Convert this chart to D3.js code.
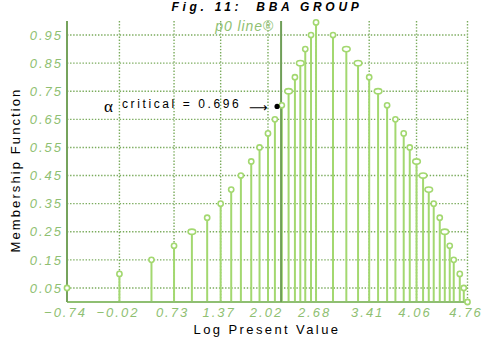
<!DOCTYPE html>
<html>
<head>
<meta charset="utf-8">
<style>
  body { margin: 0; background: white; }
  svg { display: block; font-family: "Liberation Sans", Arial, sans-serif; }
  .tick text { font-style: italic; fill: #8fbf72; font-size: 13px; letter-spacing: 2px; }
  .domain { display: none; }
</style>
</head>
<body>
<div id="chart"></div>
<script src="https://cdn.jsdelivr.net/npm/d3@7"></script>
<script>
// log present values (x) and membership values (y)
const logPV = [-0.74, -0.02, 0.42, 0.73, 0.975, 1.185, 1.37, 1.515, 1.648, 1.79, 1.904, 2.02, 2.115, 2.21,
  2.303, 2.39, 2.464, 2.532, 2.611, 2.68, 2.913, 3.096, 3.257, 3.41, 3.532, 3.656, 3.77, 3.884, 3.967, 4.06,
  4.15, 4.228, 4.296, 4.379, 4.448, 4.516, 4.571, 4.654, 4.709, 4.76];
const membership = [0.05, 0.10, 0.15, 0.20, 0.25, 0.30, 0.35, 0.40, 0.45, 0.50, 0.55, 0.60, 0.65, 0.70,
  0.75, 0.80, 0.85, 0.90, 0.95, 0.995, 0.95, 0.90, 0.85, 0.80, 0.75, 0.70, 0.65, 0.60, 0.55, 0.50,
  0.45, 0.40, 0.35, 0.30, 0.25, 0.20, 0.15, 0.10, 0.05, 0.0];
// points whose marker looks stretched (two overlapping circles)
const wideIdx = [4, 14, 16, 21, 22, 24, 29, 30, 31, 34];

const xTicks = [-0.74, -0.02, 0.73, 1.37, 2.02, 2.68, 3.41, 4.06, 4.76];
const yTicks = [0.05, 0.15, 0.25, 0.35, 0.45, 0.55, 0.65, 0.75, 0.85, 0.95];

const p0 = 2.20;
const alphaCritical = 0.696;
const alphaX = 2.145;

const width = 483, height = 345;
const plotLeft = 67, plotRight = 467.5, plotTop = 21, plotBottom = 302;

const svg = d3.select('#chart').append('svg')
  .attr('width', width)
  .attr('height', height);

const x = d3.scaleLinear().domain([-0.74, 4.76]).range([plotLeft, plotRight]);
const y = d3.scaleLinear().domain([0, 1]).range([plotBottom, plotTop]);

// title
svg.append('text')
  .attr('x', 267).attr('y', 11)
  .attr('text-anchor', 'middle')
  .style('font-weight', 'bold').style('font-style', 'italic')
  .style('font-size', '12px').style('letter-spacing', '3.7px')
  .style('white-space', 'pre')
  .text('Fig. 11:  BBA GROUP');

// grid
const gridColor = '#7aab5c';
svg.append('g').selectAll('line')
  .data(yTicks).enter().append('line')
  .attr('x1', plotLeft).attr('x2', plotRight)
  .attr('y1', d => y(d)).attr('y2', d => y(d))
  .attr('stroke', gridColor).attr('stroke-width', 1.4)
  .attr('stroke-dasharray', '1.4,1.7');

svg.append('g').selectAll('line')
  .data(xTicks.slice(1)).enter().append('line')
  .attr('x1', d => x(d)).attr('x2', d => x(d))
  .attr('y1', plotTop).attr('y2', plotBottom)
  .attr('stroke', gridColor).attr('stroke-width', 1.4)
  .attr('stroke-dasharray', '1.4,1.7');

// axes
const xAxis = d3.axisBottom(x).tickValues(xTicks).tickSize(0).tickPadding(6)
  .tickFormat(d3.format('.2f'));
svg.append('g')
  .attr('transform', `translate(-2, ${plotBottom})`)
  .call(xAxis);

const yAxis = d3.axisLeft(y).tickValues(yTicks).tickSize(0).tickPadding(4)
  .tickFormat(d3.format('.2f'));
svg.append('g')
  .attr('transform', `translate(${plotLeft}, 0)`)
  .call(yAxis);

svg.selectAll('.tick text').attr('font-family', null).attr('font-size', null);

// stems
const pts = logPV.map((v, i) => ({ x: v, y: membership[i], wide: wideIdx.includes(i) }));
const stemColor = '#a3d870';

svg.append('g').selectAll('line')
  .data(pts).enter().append('line')
  .attr('x1', d => x(d.x)).attr('x2', d => x(d.x))
  .attr('y1', plotBottom).attr('y2', d => y(d.y))
  .attr('stroke', stemColor).attr('stroke-width', 2);

// axis lines
svg.append('line')
  .attr('x1', plotLeft).attr('x2', plotRight + 1)
  .attr('y1', plotBottom).attr('y2', plotBottom)
  .attr('stroke', '#8fbf72').attr('stroke-width', 2);
svg.append('line')
  .attr('x1', plotLeft).attr('x2', plotLeft)
  .attr('y1', plotTop).attr('y2', plotBottom)
  .attr('stroke', '#76a35c').attr('stroke-width', 2);

// p0 line
svg.append('line')
  .attr('x1', x(p0)).attr('x2', x(p0))
  .attr('y1', plotTop).attr('y2', plotBottom)
  .attr('stroke', '#6f9e58').attr('stroke-width', 2);
svg.append('text')
  .attr('x', x(p0) - 7).attr('y', 31)
  .attr('text-anchor', 'end')
  .style('font-style', 'italic').style('font-size', '14px')
  .style('letter-spacing', '0.9px')
  .attr('fill', '#8fbf72')
  .text('p0 line\u00AE');

// markers
svg.append('g').selectAll('ellipse')
  .data(pts).enter().append('ellipse')
  .attr('cx', d => x(d.x)).attr('cy', d => y(d.y))
  .attr('rx', d => d.wide ? 3.8 : 2.6).attr('ry', 2.6)
  .attr('fill', 'white')
  .attr('stroke', stemColor).attr('stroke-width', 1.6);

// alpha critical point
svg.append('circle')
  .attr('cx', x(alphaX)).attr('cy', y(alphaCritical))
  .attr('r', 2.6).attr('fill', 'black');

svg.append('text')
  .attr('x', 104).attr('y', 112)
  .style('font-size', '17px')
  .style('font-family', '"Liberation Serif", serif')
  .text('\u03B1');
svg.append('text')
  .attr('x', 122).attr('y', 108)
  .style('font-size', '12px').style('letter-spacing', '2.6px')
  .text('critical = ' + alphaCritical);
svg.append('text')
  .attr('x', 249).attr('y', 112)
  .style('font-size', '13px')
  .style('font-family', '"DejaVu Sans", sans-serif')
  .text('\u27F6');

// axis titles
svg.append('text')
  .attr('x', 267).attr('y', 334)
  .attr('text-anchor', 'middle')
  .style('font-size', '13px').style('letter-spacing', '2.4px')
  .text('Log Present Value');

svg.append('text')
  .attr('transform', 'translate(20, 170) rotate(-90)')
  .attr('text-anchor', 'middle')
  .style('font-size', '13px').style('letter-spacing', '2.1px')
  .text('Membership Function');
</script>
</body>
</html>
